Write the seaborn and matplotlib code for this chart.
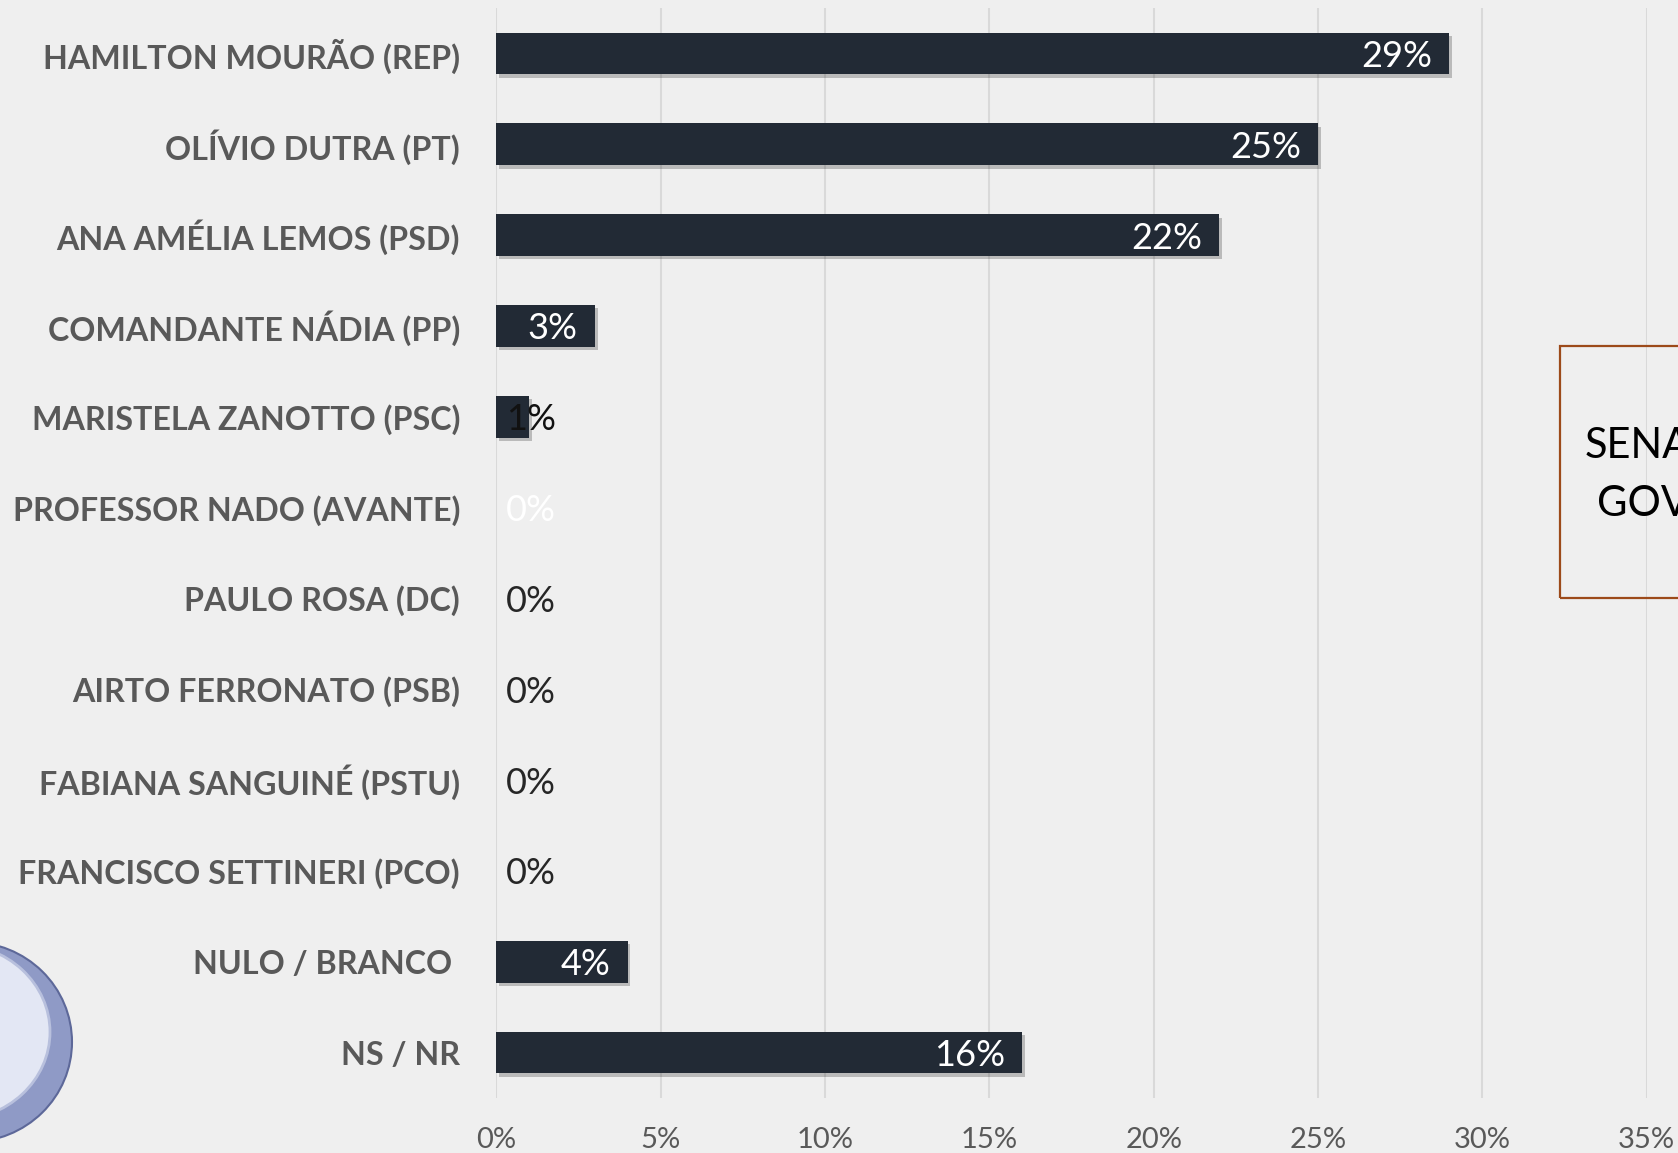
import matplotlib
matplotlib.use("Agg")
import matplotlib.pyplot as plt
import matplotlib.patheffects as pe
from matplotlib.patches import Rectangle, Ellipse
import seaborn as sns

# Poll data (% of vote intentions)
candidates = ["HAMILTON MOURÃO (REP)", "OLÍVIO DUTRA (PT)", "ANA AMÉLIA LEMOS (PSD)",
              "COMANDANTE NÁDIA (PP)", "MARISTELA ZANOTTO (PSC)", "PROFESSOR NADO (AVANTE)",
              "PAULO ROSA (DC)", "AIRTO FERRONATO (PSB)", "FABIANA SANGUINÉ (PSTU)",
              "FRANCISCO SETTINERI (PCO)", "NULO / BRANCO ", "NS / NR"]
values = [29, 25, 22, 3, 1, 0, 0, 0, 0, 0, 4, 16]
xticks = [0, 5, 10, 15, 20, 25, 30, 35]

sns.set_style("white")
plt.rcParams['font.family'] = ['Lato', 'DejaVu Sans']

BG = "#efefef"
BAR = "#222a35"
GRAY = "#595959"
W, H = 1678, 1153

fig = plt.figure(figsize=(W / 100, H / 100), dpi=100, facecolor=BG)
ax = fig.add_axes([496.2 / W, 1 - 1098 / H, 1150.5 / W, 1090 / H])
ax.set_facecolor(BG)

sns.barplot(x=values, y=candidates, orient="h", color=BAR, width=0.46,
            saturation=1, linewidth=0, ax=ax, zorder=3)
for p in ax.patches:
    p.set_linewidth(0)
    if p.get_width() > 0:
        p.set_path_effects([pe.SimplePatchShadow(offset=(2, -2.5), shadow_rgbFace="black", alpha=0.22),
                            pe.Normal()])

ax.set_xlim(0, 35)
ax.set_ylim(11.5, -0.5)
ax.set_xticks(xticks)
ax.set_xticklabels([f"{t}%" for t in xticks], fontsize=21, color=GRAY)
ax.tick_params(axis="x", length=0, pad=21)
ax.tick_params(axis="y", length=0, pad=26)
for lbl in ax.get_yticklabels():
    lbl.set_fontsize(23.2)
    lbl.set_fontweight("bold")
    lbl.set_color(GRAY)
ax.set_xlabel("")
ax.set_ylabel("")
for s in ax.spines.values():
    s.set_visible(False)
ax.grid(axis="x", color="#d9d9d9", linewidth=1.5, zorder=0)
ax.grid(axis="y", visible=False)

# value labels
for i, v in enumerate(values):
    if v >= 3:
        ax.annotate(f"{v}%", (v, i), xytext=(-17, -3), textcoords="offset pixels",
                    ha="right", va="center", color="white", fontsize=26, zorder=5)
    else:
        col = "white" if candidates[i].startswith("PROFESSOR") else ("#111111" if v > 0 else "#262626")
        ax.annotate(f"{v}%", (0, i), xytext=(60, -3), textcoords="offset pixels",
                    ha="right", va="center", color=col, fontsize=26, zorder=5)

# side box (cut off at right edge, as in the source slide)
fig.patches.append(Rectangle((1560 / W, 1 - 597.7 / H), 0.2, (597.7 - 346) / H,
                             transform=fig.transFigure, fill=False, edgecolor="#9c4a1a",
                             linewidth=1.6, zorder=1))
fig.text(1585 / W, 1 - 458 / H, "SENADO", fontsize=30, color="black", va="baseline")
fig.text(1597 / W, 1 - 516 / H, "GOVERNO", fontsize=30, color="black", va="baseline")

# logo fragment bottom-left
fig.patches.append(Ellipse((-30 / W, 1 - 1042 / H), 204 / W, 200 / H, transform=fig.transFigure,
                           facecolor="#8f9ac6", edgecolor="#5d6899", linewidth=1.5, zorder=1))
fig.patches.append(Ellipse((-45 / W, 1 - 1032 / H), 190 / W, 176 / H,
                           transform=fig.transFigure, facecolor="#e3e7f4", edgecolor="#b8c0dd",
                           linewidth=2, zorder=1))

fig.savefig("out.png", dpi=100, facecolor=BG)
